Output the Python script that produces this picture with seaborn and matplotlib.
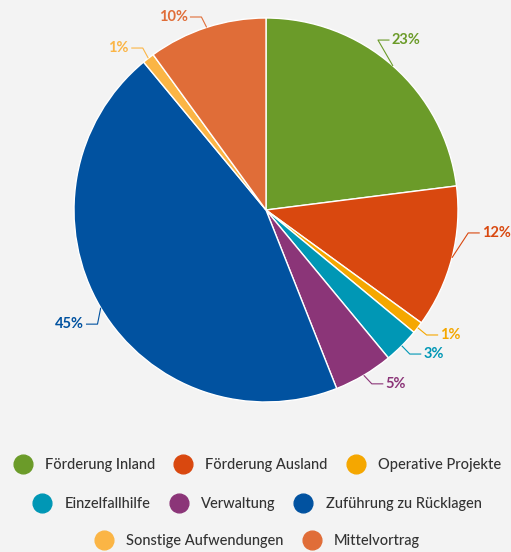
import numpy as np
import seaborn as sns
import matplotlib
matplotlib.use('Agg')
import matplotlib.pyplot as plt
from matplotlib.lines import Line2D

categories = ['Förderung Inland', 'Förderung Ausland', 'Operative Projekte',
              'Einzelfallhilfe', 'Verwaltung', 'Zuführung zu Rücklagen',
              'Sonstige Aufwendungen', 'Mittelvortrag']
shares = [23, 12, 1, 3, 5, 45, 1, 10]
labels = ['23%', '12%', '1%', '3%', '5%', '45%', '1%', '10%']
colors = ['#6b9b29', '#d9480f', '#f5a700', '#0097b5',
          '#8b3578', '#0152a0', '#fbb545', '#e06d38']

# label layout tweaks (pushed labels like the original)
label_dy = [0.015, 0.169, 0.06, 0.07, 0.093, -0.004, -0.073, -0.098]
legend_rows = [[0, 1, 2], [3, 4, 5], [6, 7]]

sns.set_theme(style='white')
plt.rcParams['font.family'] = ['Lato', 'DejaVu Sans']
bg = '#f3f3f3'
palette = sns.color_palette(colors)

fig = plt.figure(figsize=(5.11, 5.52), dpi=100, facecolor=bg)
ax = fig.add_axes([0, 122 / 552, 1, 430 / 552])
ax.set_facecolor(bg)

wedges, _ = ax.pie(shares, colors=palette, startangle=90, counterclock=False,
                   wedgeprops=dict(edgecolor='white', linewidth=1))
ax.set_aspect('auto')
ax.set_xlim(-266 / 192, 245 / 192)
ax.set_ylim(-220 / 192, 210 / 192)
ax.axis('off')

# data labels with crooked connectors
total = sum(shares)
start = 0
for i, v in enumerate(shares):
    mid = np.deg2rad((start + v / 2) / total * 360)
    start += v
    x0, y0 = np.sin(mid), np.cos(mid)
    side = 1 if x0 >= 0 else -1
    ly = 1.16 * y0 + label_dy[i]
    ex = side * np.sqrt(max(1.06 ** 2 - ly ** 2, 0.0))
    lx = ex + side * 0.06
    ax.plot([x0, ex, lx], [y0, ly, ly], color=colors[i], lw=0.8,
            solid_capstyle='butt')
    ax.text(lx + side * 0.012, ly, labels[i], color=colors[i], fontsize=10.5,
            fontweight='bold', ha='left' if side > 0 else 'right', va='center')

# legend, three centered rows
row_y = [1 - 465 / 552, 1 - 504 / 552, 1 - 541 / 552]
for row, yy in zip(legend_rows, row_y):
    handles = [Line2D([], [], marker='o', ls='', markersize=13.5,
                      markerfacecolor=colors[k], markeredgecolor=colors[k])
               for k in row]
    fig.legend(handles, [categories[k] for k in row], loc='center',
               bbox_to_anchor=(257 / 511, yy), ncol=len(row), frameon=False,
               prop=dict(size=10.5, weight='medium'), handlelength=1.35,
               handletextpad=0.85, columnspacing=1.25, labelcolor='#333333',
               borderpad=0, borderaxespad=0)

fig.savefig('out.png', dpi=100, facecolor=bg)
